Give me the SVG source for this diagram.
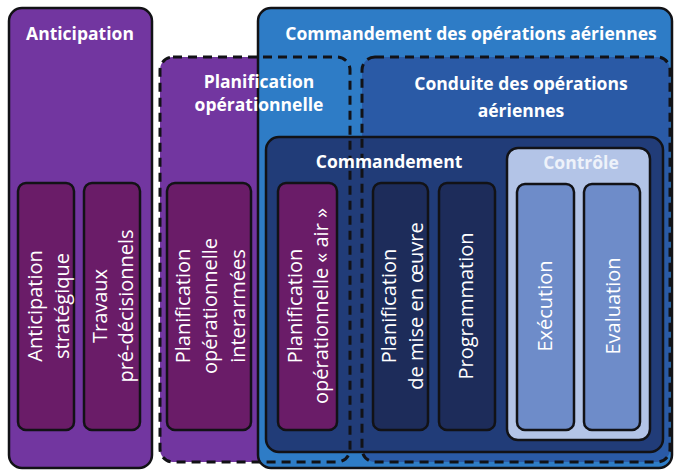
<svg xmlns="http://www.w3.org/2000/svg" width="675" height="471" viewBox="0 0 675 471">
<style>
.box{stroke:#121216;stroke-width:2.5}
.dash{fill:none;stroke:#121216;stroke-width:3;stroke-dasharray:9 6}
.ttl{font-family:"Open Sans","Liberation Sans",sans-serif;font-weight:bold;font-size:17.5px;fill:#ffffff;text-anchor:middle}
.vt{font-family:"Open Sans","Liberation Sans",sans-serif;font-size:20px;fill:#ffffff;text-anchor:middle}
.mag{fill:#6a1c68}
.navy{fill:#1d2c5a}
.lb{fill:#6e8cc9}
</style>
<rect width="675" height="471" fill="#ffffff"/>

<g id="anticipation">
<rect class="box" x="9" y="8" width="143" height="460" rx="13" fill="#7236a0"/>
<text class="ttl" x="80" y="40">Anticipation</text>
</g>

<g id="planif-op-fill">
<rect x="160" y="57" width="190" height="405" rx="13" fill="#7236a0"/>
</g>

<g id="commandement-ops">
<rect class="box" x="258" y="8" width="414" height="460" rx="13" fill="#2e7cc6"/>
<text class="ttl" x="471" y="40">Commandement des opérations aériennes</text>
</g>

<g id="conduite">
<rect x="362" y="57" width="308" height="405" rx="13" fill="#2a5aa6"/>
<text class="ttl" x="521" y="90">Conduite des opérations</text>
<text class="ttl" x="521" y="117">aériennes</text>
</g>

<g id="commandement">
<rect class="box" x="266" y="137" width="397" height="315" rx="13" fill="#213c78"/>
</g>

<g id="controle">
<rect class="box" x="507" y="148" width="143" height="292" rx="11" fill="#b3c4e7"/>
<text class="ttl" x="581" y="169" style="fill:#eef2fa">Contrôle</text>
</g>

<g id="planif-op">
<rect class="dash" x="160" y="57" width="190" height="405" rx="13"/>
<text class="ttl" x="259" y="88">Planification</text>
<text class="ttl" x="259" y="111">opérationnelle</text>
</g>
<g id="conduite-outline">
<rect class="dash" x="362" y="57" width="308" height="405" rx="13"/>
</g>
<g id="commandement-label">
<text class="ttl" x="389" y="168">Commandement</text>
</g>

<g id="anticipation-strategique">
<rect class="box mag" x="18" y="183" width="56" height="247" rx="8"/>
<text class="vt" transform="translate(42,306) rotate(-90)">Anticipation</text>
<text class="vt" transform="translate(69,306) rotate(-90)">stratégique</text>
</g>
<g id="travaux">
<rect class="box mag" x="84" y="183" width="56" height="247" rx="8"/>
<text class="vt" transform="translate(107,306) rotate(-90)">Travaux</text>
<text class="vt" transform="translate(133,306) rotate(-90)">pré-décisionnels</text>
</g>
<g id="planif-interarmees">
<rect class="box mag" x="167" y="183" width="84" height="247" rx="8"/>
<text class="vt" transform="translate(190,306) rotate(-90)">Planification</text>
<text class="vt" transform="translate(217,306) rotate(-90)">opérationnelle</text>
<text class="vt" transform="translate(245,306) rotate(-90)">interarmées</text>
</g>
<g id="planif-air">
<rect class="box mag" x="278" y="183" width="59" height="247" rx="8"/>
<text class="vt" transform="translate(302,306) rotate(-90)">Planification</text>
<text class="vt" transform="translate(328,306) rotate(-90)">opérationnelle « air »</text>
</g>
<g id="planif-mise-en-oeuvre">
<rect class="box navy" x="373" y="183" width="55" height="247" rx="8"/>
<text class="vt" transform="translate(396,306) rotate(-90)">Planification</text>
<text class="vt" transform="translate(423,306) rotate(-90)">de mise en œuvre</text>
</g>
<g id="programmation">
<rect class="box navy" x="439" y="183" width="56" height="247" rx="8"/>
<text class="vt" transform="translate(473,306) rotate(-90)">Programmation</text>
</g>
<g id="execution">
<rect class="box lb" x="517" y="184" width="57" height="246" rx="8"/>
<text class="vt" transform="translate(552,306) rotate(-90)">Exécution</text>
</g>
<g id="evaluation">
<rect class="box lb" x="584" y="184" width="56" height="246" rx="8"/>
<text class="vt" transform="translate(620,306) rotate(-90)">Evaluation</text>
</g>
</svg>
